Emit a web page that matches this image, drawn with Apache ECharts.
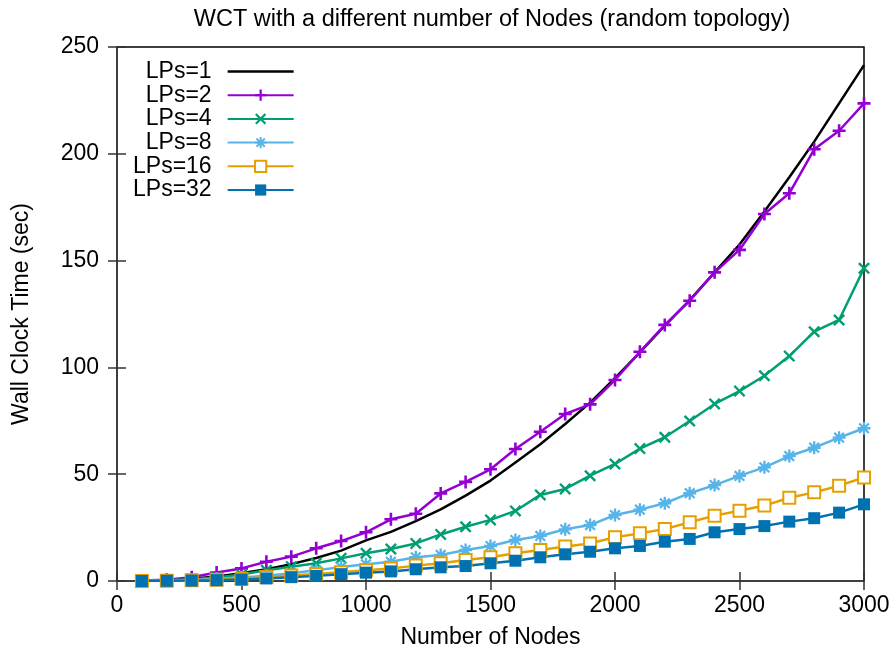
<!DOCTYPE html>
<html>
<head>
<meta charset="utf-8">
<script src="https://cdn.jsdelivr.net/npm/echarts@6/dist/echarts.min.js"></script>
<style>
  html, body { margin: 0; padding: 0; background: #fff; }
  #main { width: 896px; height: 653px; }
</style>
</head>
<body>
<div id="main"></div>
<script>
var nodes = [100, 200, 300, 400, 500, 600, 700, 800, 900, 1000,
  1100, 1200, 1300, 1400, 1500, 1600, 1700, 1800, 1900, 2000,
  2100, 2200, 2300, 2400, 2500, 2600, 2700, 2800, 2900, 3000];

var lps1 = [0.1, 0.4, 1.1, 2.1, 3.6, 5.5, 7.9, 10.8, 14.2, 19.0,
  23.0, 28.0, 33.5, 40.0, 47.0, 55.5, 64.0, 73.5, 83.5, 95.0,
  107.0, 119.5, 131.5, 144.5, 157.5, 173.0, 189.0, 205.7, 223.6, 241.5];
var lps2 = [0.2, 0.6, 1.8, 4.0, 5.9, 9.0, 11.4, 15.3, 18.7, 22.8,
  28.9, 31.5, 41.0, 46.4, 52.3, 61.8, 69.9, 78.2, 82.7, 94.1,
  107.3, 119.9, 131.2, 144.5, 155.0, 171.8, 181.5, 202.1, 210.8, 223.6];
var lps4 = [0.1, 0.3, 0.8, 1.6, 3.0, 5.0, 6.7, 8.3, 10.6, 13.0,
  15.0, 17.6, 21.8, 25.4, 28.6, 32.8, 40.3, 43.1, 49.3, 54.8,
  62.0, 67.3, 74.9, 82.9, 88.9, 96.1, 105.3, 116.7, 122.2, 146.4];
var lps8 = [0.1, 0.2, 0.5, 1.0, 1.6, 2.5, 3.6, 5.0, 6.5, 7.8,
  9.0, 11.1, 12.2, 14.5, 16.4, 19.2, 21.1, 24.2, 26.2, 30.9,
  33.4, 36.4, 41.1, 44.9, 49.2, 53.2, 58.5, 62.4, 67.1, 71.5];
var lps16 = [0.0, 0.1, 0.3, 0.6, 1.1, 1.9, 2.6, 3.3, 4.1, 5.0,
  5.9, 7.2, 8.3, 9.8, 11.1, 13.0, 14.5, 16.1, 17.6, 20.5,
  22.3, 24.3, 27.5, 30.6, 32.9, 35.3, 39.0, 41.5, 44.6, 48.5];
var lps32 = [0.0, 0.1, 0.2, 0.4, 0.7, 1.2, 1.8, 2.4, 3.2, 3.9,
  4.5, 5.5, 6.4, 7.0, 8.3, 9.5, 11.1, 12.5, 13.7, 15.3,
  16.4, 18.4, 19.7, 22.8, 24.3, 25.7, 27.8, 29.4, 32.0, 35.9];

var names = ['LPs=1', 'LPs=2', 'LPs=4', 'LPs=8', 'LPs=16', 'LPs=32'];
var colors = ['#000000', '#9400d3', '#009e73', '#56b4e9', '#e69f00', '#0072b2'];

// gnuplot style point types
var plus = 'path://M4,0H6V4H10V6H6V10H4V6H0V4H4Z';
var cross = 'path://M0,1.4L1.4,0L5,3.6L8.6,0L10,1.4L6.4,5L10,8.6L8.6,10L5,6.4L1.4,10L0,8.6L3.6,5Z';
var star = 'path://M4.1,0H5.9V4.1H10V5.9H5.9V10H4.1V5.9H0V4.1H4.1Z' +
  'M0.7,1.9L1.9,0.7L5,3.8L8.1,0.7L9.3,1.9L6.2,5L9.3,8.1L8.1,9.3L5,6.2L1.9,9.3L0.7,8.1L3.8,5Z';
var symbols = ['none', plus, cross, star, 'emptyRect', 'rect'];
var sizes = [0, 13, 12, 13, 12, 12];
var values = [lps1, lps2, lps4, lps8, lps16, lps32];

function pairs(ys) {
  return nodes.map(function (x, i) { return [x, ys[i]]; });
}

var font = 'Liberation Sans, Arial, sans-serif';

var series = names.map(function (n, i) {
  return {
    name: n,
    type: 'line',
    data: pairs(values[i]),
    symbol: symbols[i],
    symbolSize: sizes[i],
    showSymbol: i > 0,
    lineStyle: {color: colors[i], width: 2.5},
    itemStyle: {color: colors[i], borderColor: colors[i], borderWidth: i == 4 ? 2.2 : 0},
    emphasis: {disabled: true},
    animation: false
  };
});

var legendData = names.map(function (n, i) {
  if (i == 0) return {name: n, icon: 'path://M0,0H66V2.5H0Z'};
  return {name: n};
});

var chart = echarts.init(document.getElementById('main'), null, {renderer: 'canvas'});

chart.setOption({
  backgroundColor: '#fff',
  color: colors,
  title: {
    text: 'WCT with a different number of Nodes (random topology)',
    left: 487, top: 3, textAlign: 'center',
    textStyle: {fontFamily: font, fontSize: 23.5, fontWeight: 'normal', color: '#000'}
  },
  grid: {left: 117, right: 32, top: 47, bottom: 72, show: true, borderColor: '#000', borderWidth: 1.5,
    outerBoundsMode: 'none'},
  legend: {
    data: legendData,
    orient: 'vertical',
    left: 128, top: 55,
    align: 'right',
    itemWidth: 66, itemHeight: 14, itemGap: 0.7,
    selectedMode: false,
    textStyle: {fontFamily: font, fontSize: 23, color: '#000', width: 80, align: 'right', padding: [0, 11, 0, 0]}
  },
  xAxis: [{
    type: 'value', min: 0, max: 3000, interval: 500,
    name: 'Number of Nodes', nameLocation: 'middle', nameGap: 45,
    nameTextStyle: {fontFamily: font, fontSize: 23, color: '#000'},
    axisLine: {show: false},
    axisTick: {show: true, inside: true, length: 9, lineStyle: {color: '#333', width: 1.5}},
    axisLabel: {fontFamily: font, fontSize: 23, color: '#000', margin: 13,
      formatter: function (v) { return String(v); }},
    splitLine: {show: false}
  }, {
    type: 'value', min: 0, max: 3000, interval: 500, position: 'top',
    axisLine: {show: false},
    axisTick: {show: true, inside: true, length: 9, lineStyle: {color: '#333', width: 1.5}},
    axisLabel: {show: false},
    splitLine: {show: false}
  }],
  yAxis: [{
    type: 'value', min: 0, max: 250, interval: 50,
    name: 'Wall Clock Time (sec)', nameLocation: 'middle', nameGap: 84,
    nameTextStyle: {fontFamily: font, fontSize: 23, color: '#000'},
    axisLine: {show: false},
    axisTick: {show: true, inside: true, length: 9, lineStyle: {color: '#333', width: 1.5}},
    axisLabel: {fontFamily: font, fontSize: 23, color: '#000', margin: 18},
    splitLine: {show: false}
  }, {
    type: 'value', min: 0, max: 250, interval: 50, position: 'right',
    axisLine: {show: false},
    axisTick: {show: true, inside: true, length: 9, lineStyle: {color: '#333', width: 1.5}},
    axisLabel: {show: false},
    splitLine: {show: false}
  }],
  series: series
});
</script>
</body>
</html>
